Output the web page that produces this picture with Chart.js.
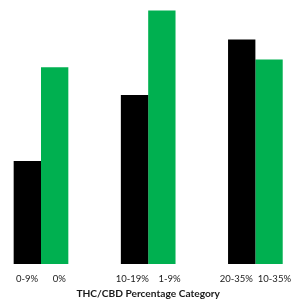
<!DOCTYPE html>
<html>
<head>
<meta charset="utf-8">
<script src="https://cdn.jsdelivr.net/npm/chart.js@4"></script>
<style>
  html, body { margin: 0; padding: 0; background: #fff; }
</style>
</head>
<body>
<canvas id="grafico" width="300" height="300"></canvas>
<script>
// each category label reads "THC range   CBD range", as in the source chart
const categories = ['0-9%      0%', '10-19%    1-9%', '20-35%  10-35%'];
const thcValues = [39, 64, 85];
const cbdValues = [74.5, 96, 77.5];

const ctx = document.getElementById('grafico').getContext('2d');

new Chart(ctx, {
    type: 'bar',
    data: {
        labels: categories,
        datasets: [{
            label: 'THC',
            data: thcValues,
            backgroundColor: '#000000',
            clip: false
        }, {
            label: 'CBD',
            data: cbdValues,
            backgroundColor: '#00b050',
            clip: false
        }]
    },
    options: {
        responsive: false,
        animation: false,
        layout: {
            padding: { left: 41, right: 43, top: 0, bottom: 0 }
        },
        datasets: {
            bar: { barPercentage: 1, categoryPercentage: 0.51 }
        },
        scales: {
            x: {
                offset: false,
                grid: { display: false, drawTicks: false },
                border: { display: false },
                ticks: {
                    color: '#1a1a1a',
                    font: { family: 'Lato', size: 9.5 },
                    padding: 9,
                    maxRotation: 0,
                    autoSkip: false
                },
                title: {
                    display: true,
                    text: 'THC/CBD Percentage Category',
                    color: '#1a1a1a',
                    font: { family: 'Lato', size: 10.2, weight: 'bold' },
                    padding: { top: -5.6, bottom: 0 }
                }
            },
            y: { display: false, min: 0, max: 100 }
        },
        plugins: {
            legend: { display: false },
            tooltip: { enabled: false }
        }
    }
});
</script>
</body>
</html>
